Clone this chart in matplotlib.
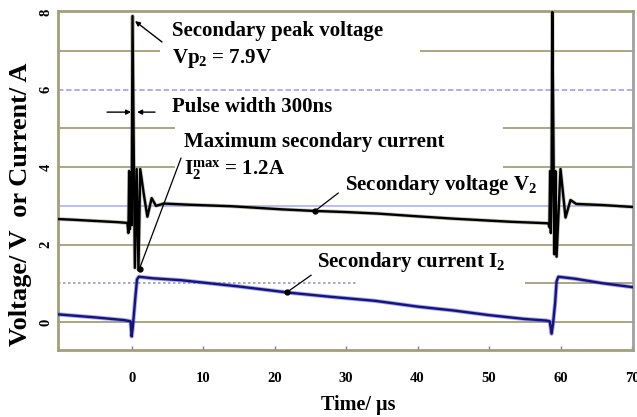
import numpy as np
import matplotlib
matplotlib.use("Agg")
import matplotlib.pyplot as plt
from matplotlib.patches import Rectangle

# ---------------- data ----------------
volt_t = [-10.3, -8, -6, -4, -2, -0.6, -0.45, -0.35, -0.25, -0.15, 0.0, 0.12,
          0.45, 0.7, 0.95, 1.2, 1.7, 2.2, 2.8, 3.4, 4.5, 8, 14, 21, 25.5, 30,
          34.5, 40, 45, 49, 53, 57, 58.3, 58.45, 58.55, 58.65, 58.75, 58.85,
          59.15, 59.3, 59.45, 60.0, 60.7, 61.4, 62.2, 66, 70.2]
volt_v = [2.66, 2.64, 2.62, 2.6, 2.58, 2.56, 2.3, 3.9, 2.4, 3.8, 2.5, 7.9,
          1.4, 3.95, 1.35, 3.95, 3.3, 2.72, 3.2, 3.0, 3.06, 3.03, 2.99, 2.91, 2.87, 2.84,
          2.8, 2.73, 2.67, 2.63, 2.59, 2.56, 2.55, 2.45, 3.9, 2.3, 3.5, 8.0,
          1.75, 3.9, 1.69, 3.95, 2.7, 3.15, 3.05, 3.02, 2.97]

curr_t = [-10.3, -5, -1, -0.15, 0.0, 0.15, 0.5, 0.75, 1.0, 3, 7, 15, 22, 28,
          34, 40, 45, 50, 55, 58.0, 58.5, 58.75, 58.95, 59.25, 59.45, 59.7,
          62, 66, 70.2]
curr_i = [0.2, 0.12, 0.05, 0.02, -0.37, -0.15, 0.6, 1.1, 1.17, 1.13, 1.08,
          0.92, 0.76, 0.65, 0.55, 0.4, 0.3, 0.18, 0.08, 0.04, 0.02, -0.3,
          -0.05, 0.5, 1.05, 1.17, 1.12, 1.0, 0.9]

x_ticks = [0, 10, 20, 30, 40, 50, 60, 70]
y_ticks = [0, 2, 4, 6, 8]
grid_levels = [0, 1, 2, 3, 4, 5, 6, 7]

peak_voltage = 7.9
max_current = 1.2
pulse_width_ns = 300

# ---------------- style ----------------
plt.rcParams['font.family'] = ['Liberation Serif', 'DejaVu Serif']
plt.rcParams['font.weight'] = 'bold'
plt.rcParams['mathtext.fontset'] = 'custom'
plt.rcParams['mathtext.rm'] = 'Liberation Serif:bold'
plt.rcParams['mathtext.bf'] = 'Liberation Serif:bold'
plt.rcParams['mathtext.it'] = 'Liberation Serif:bold'

olive = '#a39f78'

fig = plt.figure(figsize=(6.37, 4.17), dpi=100)
ax = fig.add_axes([0.0911, 0.1607, 0.9027, 0.8129])
ax.set_xlim(-10.3, 70.15)
ax.set_ylim(-0.72, 8.03)

# grid lines
for lvl in grid_levels:
    if lvl == 6:
        ax.axhline(lvl, color='#a6a6f2', lw=1.3, ls=(0, (3, 1.5)), zorder=1)
    elif lvl == 3:
        ax.axhline(lvl, color='#b4b4ff', lw=1.3, zorder=1)
    elif lvl == 1:
        ax.hlines(lvl, -10.3, 31.5, color='#9a9ab8', lw=1.2, ls=(0, (1.5, 1.5)), zorder=1)
        ax.hlines(lvl, 55.0, 70.15, color=olive, lw=1.3, zorder=1)
    else:
        ax.axhline(lvl, color=olive, lw=1.3, zorder=1)

# white text backgrounds that interrupt the grid
ax.add_patch(Rectangle((4.0, 6.4), 36.3, 1.5, fc='white', ec='none', zorder=1.2))
ax.add_patch(Rectangle((6.1, 3.6), 45.9, 1.7, fc='white', ec='none', zorder=1.2))

# traces
ax.plot(curr_t, curr_i, color='#5a5aff', lw=3.0, alpha=0.55, zorder=3)
ax.plot(curr_t, curr_i, color='#161672', lw=1.7, zorder=3.1)
ax.plot(volt_t, volt_v, color='#8a8a70', lw=2.8, alpha=0.5, zorder=3.2)
ax.plot(volt_t, volt_v, color='black', lw=1.7, zorder=3.3)

# axes styling
for s in ax.spines.values():
    s.set_color(olive)
    s.set_linewidth(2)
ax.spines['right'].set_color('#a0a0a0')
ax.set_xticks(x_ticks)
ax.set_yticks(y_ticks)
ax.tick_params(axis='x', direction='in', length=3, color='#7a7ac8', width=1,
               pad=16, labelsize=10.5)
ax.tick_params(axis='y', length=0, pad=4, labelsize=10.5)
for lab in ax.get_yticklabels():
    lab.set_rotation(90)
    lab.set_va('center')
ax.set_xlabel('Time/ \u00b5s', fontsize=14.5, fontweight='bold')
ax.xaxis.set_label_coords(0.522, -0.132)
ax.set_ylabel('Voltage/ V  or Current/ A', fontsize=19, fontweight='bold')
ax.yaxis.set_label_coords(-0.046, 0.43)

# annotations
fs = 15
ax.text(5.65, 7.51, 'Secondary peak voltage', fontsize=fs, fontweight='bold',
        ha='left', va='center', zorder=6)
ax.text(5.65, 6.81, 'Vp$_2$ = %.1fV' % peak_voltage, fontsize=fs, fontweight='bold',
        ha='left', va='center', zorder=6)
ax.text(5.65, 5.56, 'Pulse width %dns' % pulse_width_ns, fontsize=fs, fontweight='bold',
        ha='left', va='center', zorder=6)
ax.text(7.3, 4.65, 'Maximum secondary current', fontsize=fs, fontweight='bold',
        ha='left', va='center', zorder=6)
ax.text(7.3, 3.92, 'I$_2^{max}$ = %.1fA' % max_current, fontsize=fs, fontweight='bold',
        ha='left', va='center', zorder=6)
ax.text(29.85, 3.54, 'Secondary voltage V$_2$', fontsize=fs, fontweight='bold',
        ha='left', va='center', zorder=6)
ax.text(25.9, 1.55, 'Secondary current I$_2$', fontsize=fs, fontweight='bold',
        ha='left', va='center', zorder=6)

# peak arrow
t_peak = volt_t[int(np.argmax(volt_v[:20]))]
ax.annotate('', xy=(t_peak + 0.35, peak_voltage - 0.13), xytext=(4.25, 7.23),
            arrowprops=dict(arrowstyle='-|>', color='black', lw=1.0,
                            mutation_scale=7, shrinkA=0, shrinkB=0), zorder=6)
# pulse width arrows
ax.annotate('', xy=(-0.08, 5.42), xytext=(-3.44, 5.42),
            arrowprops=dict(arrowstyle='-|>', color='black', lw=1.0,
                            mutation_scale=7, shrinkA=0, shrinkB=0), zorder=6)
ax.annotate('', xy=(0.76, 5.42), xytext=(3.27, 5.42),
            arrowprops=dict(arrowstyle='-|>', color='black', lw=1.0,
                            mutation_scale=7, shrinkA=0, shrinkB=0), zorder=6)

def pointer(x0, y0, x1, y1):
    ax.plot([x0, x1], [y0, y1], color='black', lw=0.9, zorder=6)
    ax.plot([x1], [y1], 'o', color='black', ms=3.5, zorder=6)

# max current pointer (bottom of the ringing)
pointer(6.9, 4.23, 1.1, 1.38)
# voltage pointer
tv = 25.65
pointer(28.9, 3.33, tv, float(np.interp(tv, volt_t, volt_v)))
# current pointer
tc = 21.7
pointer(25.1, 1.21, tc, float(np.interp(tc, curr_t, curr_i)))

fig.savefig('out.png', dpi=100)
